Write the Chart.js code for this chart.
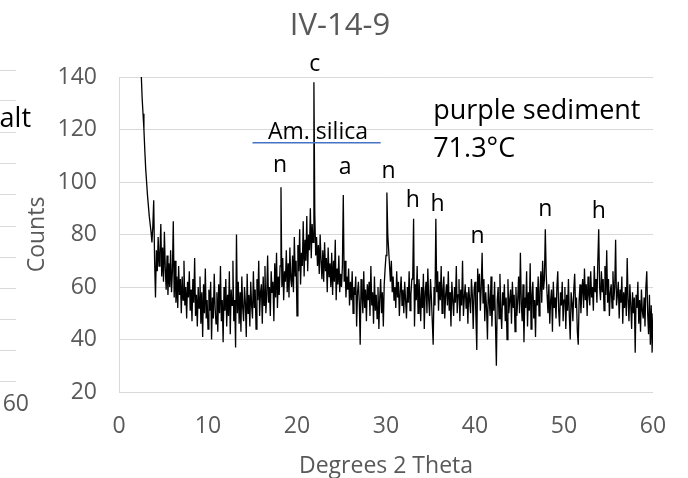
<!DOCTYPE html>
<html>
<head>
<meta charset="utf-8">
<script src="https://cdn.jsdelivr.net/npm/chart.js@4.4.1/dist/chart.umd.min.js"></script>
<style>
  html, body { margin: 0; padding: 0; background: #fff; }
  canvas { display: block; }
</style>
</head>
<body>
<canvas id="chartXrd" width="688" height="478"></canvas>
<script>
// Barrido XRD: empieza en 2.0 grados y avanza de a 0.1
const START_2THETA = 2.0;
const STEP_2THETA = 0.1;

// Cuentas (una fila = 1 grado)
const COUNTS = [
  300, 255, 215, 182, 158, 141, 132, 126, 120, 112, // 2
  105, 100, 95, 91, 87, 84, 81, 77, 83, 93, // 3
  70, 56, 74, 66, 79, 68, 73, 84, 64, 75, // 4
  62, 81, 67, 59, 72, 57, 69, 60, 74, 58, // 5
  66, 85, 56, 70, 54, 64, 52, 68, 57, 63, // 6
  50, 64, 55, 70, 53, 60, 48, 62, 56, 66, // 7
  51, 59, 47, 63, 54, 71, 49, 57, 45, 60, // 8
  52, 64, 46, 58, 41, 61, 50, 67, 48, 55, // 9
  44, 59, 51, 62, 40, 56, 48, 65, 52, 46, // 10
  58, 43, 61, 50, 68, 47, 55, 39, 60, 51, // 11
  63, 45, 57, 49, 66, 42, 59, 53, 70, 47, // 12
  55, 37, 80, 50, 62, 46, 58, 43, 64, 52, // 13
  47, 60, 54, 41, 65, 50, 57, 45, 62, 53, // 14
  48, 66, 52, 59, 44, 63, 55, 70, 49, 58, // 15
  61, 46, 64, 53, 68, 50, 57, 72, 54, 60, // 16
  49, 66, 58, 62, 47, 69, 56, 73, 52, 64, // 17
  57, 68, 98, 60, 71, 55, 66, 62, 74, 58, // 18
  69, 56, 75, 63, 60, 72, 58, 79, 64, 70, // 19
  49, 76, 66, 82, 61, 73, 68, 85, 64, 78, // 20
  70, 87, 66, 80, 74, 90, 71, 84, 77, 138, // 21
  88, 72, 79, 68, 76, 65, 80, 70, 63, 74, // 22
  62, 77, 66, 71, 58, 75, 64, 69, 60, 73, // 23
  57, 70, 62, 78, 55, 67, 61, 72, 58, 65, // 24
  60, 68, 95, 62, 70, 56, 64, 59, 67, 53, // 25
  62, 55, 66, 50, 60, 57, 64, 45, 58, 62, // 26
  54, 38, 63, 57, 50, 66, 52, 59, 47, 61, // 27
  55, 62, 49, 68, 53, 58, 46, 64, 51, 57, // 28
  48, 60, 44, 56, 63, 50, 58, 45, 61, 67, // 29
  72, 96, 80, 74, 68, 62, 70, 58, 64, 55, // 30
  60, 52, 66, 56, 62, 49, 58, 64, 53, 59, // 31
  50, 62, 55, 48, 60, 54, 66, 51, 57, 63, // 32
  63, 86, 45, 61, 55, 68, 50, 63, 57, 47, // 33
  60, 52, 65, 44, 58, 62, 50, 67, 55, 49, // 34
  63, 56, 47, 38, 60, 53, 86, 58, 66, 51, // 35
  62, 55, 68, 50, 59, 64, 48, 57, 61, 53, // 36
  66, 51, 58, 45, 62, 55, 49, 60, 54, 68, // 37
  50, 57, 63, 47, 59, 53, 70, 49, 56, 61, // 38
  52, 58, 46, 60, 55, 50, 63, 57, 44, 59, // 39
  62, 49, 36, 67, 58, 65, 51, 60, 73, 54, // 40
  63, 47, 58, 52, 40, 61, 55, 49, 64, 45, // 41
  57, 51, 62, 46, 30, 55, 60, 48, 65, 52, // 42
  44, 58, 53, 61, 47, 56, 40, 63, 50, 55, // 43
  59, 46, 62, 52, 57, 43, 60, 49, 55, 64, // 44
  50, 73, 54, 47, 61, 39, 56, 52, 66, 45, // 45
  58, 51, 69, 44, 57, 62, 48, 55, 41, 60, // 46
  53, 64, 49, 58, 66, 54, 70, 59, 63, 82, // 47
  65, 57, 50, 61, 46, 55, 59, 43, 62, 52, // 48
  56, 48, 60, 66, 51, 45, 58, 53, 62, 47, // 49
  55, 60, 44, 57, 51, 63, 49, 40, 58, 54, // 50
  47, 59, 65, 52, 56, 43, 38, 55, 61, 50, // 51
  58, 63, 52, 67, 55, 61, 49, 64, 57, 53, // 52
  66, 56, 60, 51, 68, 58, 63, 54, 70, 82, // 53
  60, 55, 66, 58, 63, 51, 68, 57, 74, 54, // 54
  63, 49, 58, 61, 52, 66, 55, 60, 78, 53, // 55
  57, 62, 48, 59, 54, 64, 46, 58, 52, 60, // 56
  49, 71, 55, 47, 61, 53, 44, 58, 50, 56, // 57
  35, 57, 52, 62, 46, 55, 43, 59, 51, 48, // 58
  56, 45, 60, 66, 50, 42, 57, 38, 53, 35, // 59
  50, // 60
];

const X_TICKS = [0, 10, 20, 30, 40, 50, 60];
const Y_TICKS = [20, 40, 60, 80, 100, 120, 140];

// Letras de fases sobre los picos
const PEAK_LABELS = ["c", "n", "a", "n", "h", "h", "n", "n", "h"];
const PEAK_THETA = [22.0, 18.1, 25.4, 30.3, 33.0, 35.8, 40.3, 47.9, 53.9];
const PEAK_LABEL_COUNTS = [142.3, 103.8, 103.0, 101.5, 90.3, 88.8, 76.8, 87.1, 86.1];

// Rango de silice amorfa
const AM_SILICA_RANGE = [15.0, 29.4];
const AM_SILICA_LEVEL = 115;

const TITLE = "IV-14-9";
const SAMPLE_LINES = ["purple sediment", "71.3°C"];

const FONT = "'Open Sans', sans-serif";
const GRAY_TEXT = "#595959";
const GRID = "#d9d9d9";

Chart.defaults.font.family = FONT;

const puntos = COUNTS.map((c, i) => ({
  x: +(START_2THETA + i * STEP_2THETA).toFixed(1),
  y: c,
}));

// Todo lo que va escrito encima (titulo, letras, textos)
const overlay = {
  id: "overlay",
  afterDatasetsDraw(chart) {
    const { ctx, scales } = chart;
    const xs = scales.x;
    const ys = scales.y;
    ctx.save();

    // pedacito del grafico vecino a la izquierda
    ctx.strokeStyle = GRID;
    ctx.lineWidth = 1;
    [70, 100, 132, 163, 194, 226, 257, 288, 319, 350, 381].forEach((y) => {
      ctx.beginPath();
      ctx.moveTo(0, y + 0.5);
      ctx.lineTo(16, y + 0.5);
      ctx.stroke();
    });
    ctx.fillStyle = "#000";
    ctx.font = "27px " + FONT;
    ctx.textAlign = "right";
    ctx.textBaseline = "alphabetic";
    ctx.fillText("alt", 31, 127);
    ctx.fillStyle = GRAY_TEXT;
    ctx.font = "23px " + FONT;
    ctx.fillText("60", 29, 411);

    // titulo
    ctx.fillStyle = GRAY_TEXT;
    ctx.font = "31px " + FONT;
    ctx.textAlign = "center";
    ctx.fillText(TITLE, 340, 35);

    // linea de silice amorfa
    ctx.strokeStyle = "#4472c4";
    ctx.lineWidth = 1.5;
    ctx.beginPath();
    const yl = ys.getPixelForValue(AM_SILICA_LEVEL);
    ctx.moveTo(xs.getPixelForValue(AM_SILICA_RANGE[0]), yl);
    ctx.lineTo(xs.getPixelForValue(AM_SILICA_RANGE[1]), yl);
    ctx.stroke();

    ctx.fillStyle = "#000";
    ctx.font = "23px " + FONT;
    ctx.textAlign = "center";
    ctx.fillText("Am. silica", xs.getPixelForValue(22.36), ys.getPixelForValue(116.4));

    PEAK_LABELS.forEach((txt, i) => {
      ctx.fillText(
        txt,
        xs.getPixelForValue(PEAK_THETA[i]),
        ys.getPixelForValue(PEAK_LABEL_COUNTS[i])
      );
    });

    ctx.font = "27px " + FONT;
    ctx.textAlign = "left";
    ctx.fillText(SAMPLE_LINES[0], xs.getPixelForValue(35.3), ys.getPixelForValue(124.0));
    ctx.fillText(SAMPLE_LINES[1], xs.getPixelForValue(35.3), ys.getPixelForValue(109.5));

    ctx.restore();
  },
};

new Chart(document.getElementById("chartXrd").getContext("2d"), {
  type: "line",
  data: {
    datasets: [
      {
        data: puntos,
        borderColor: "#000",
        borderWidth: 1.3,
        pointRadius: 0,
        tension: 0,
        clip: 0,
      },
    ],
  },
  options: {
    responsive: false,
    animation: false,
    devicePixelRatio: 1,
    layout: { padding: { left: 24, right: 35, top: 77, bottom: 0 } },
    plugins: {
      legend: { display: false },
      title: { display: false },
      tooltip: { enabled: false },
    },
    scales: {
      x: {
        type: "linear",
        min: 0,
        max: 60,
        afterBuildTicks: (s) => {
          s.ticks = X_TICKS.map((v) => ({ value: v }));
        },
        afterFit: (s) => {
          s.height = 86;
        },
        grid: { display: false },
        border: { display: false },
        ticks: {
          color: GRAY_TEXT,
          font: { size: 23 },
          padding: 13,
          maxRotation: 0,
          autoSkip: false,
        },
        title: {
          display: true,
          text: "Degrees 2 Theta",
          color: GRAY_TEXT,
          font: { size: 23 },
          padding: { top: 0, bottom: -2 },
        },
      },
      y: {
        min: 20,
        max: 140,
        afterBuildTicks: (s) => {
          s.ticks = Y_TICKS.map((v) => ({ value: v }));
        },
        afterFit: (s) => {
          s.width = 95;
        },
        grid: { color: GRID, lineWidth: 1, drawTicks: false },
        border: { display: true, color: GRID },
        ticks: {
          color: GRAY_TEXT,
          font: { size: 23 },
          padding: 22,
        },
        title: {
          display: true,
          text: "Counts",
          color: GRAY_TEXT,
          font: { size: 23 },
          padding: 0,
        },
      },
    },
  },
  plugins: [overlay],
});
</script>
</body>
</html>
